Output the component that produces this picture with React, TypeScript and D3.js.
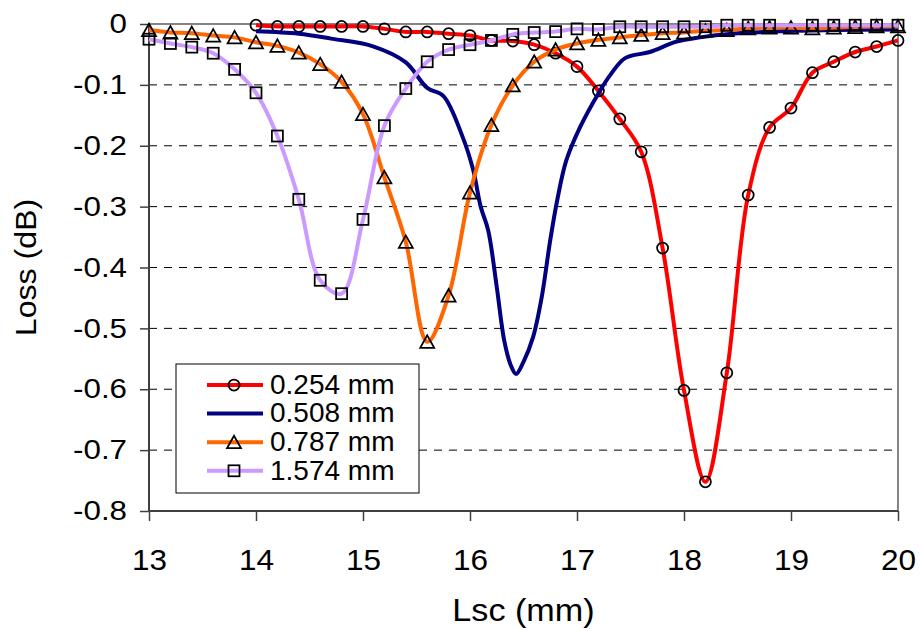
import { useRef, useEffect } from "react";
import * as d3 from "d3";

// Lsc (mm) and loss (dB)
const redX = [14.0, 14.2, 14.4, 14.6, 14.8, 15.0, 15.2, 15.4, 15.6, 15.8, 16.0, 16.2, 16.4, 16.6, 16.8, 17.0, 17.2, 17.4, 17.6, 17.8, 18.0, 18.2, 18.4, 18.6, 18.8, 19.0, 19.2, 19.4, 19.6, 19.8, 20.0];
const redY = [-0.002, -0.004, -0.004, -0.004, -0.004, -0.004, -0.008, -0.013, -0.013, -0.016, -0.019, -0.027, -0.028, -0.034, -0.048, -0.07, -0.11, -0.156, -0.21, -0.368, -0.602, -0.752, -0.573, -0.281, -0.17, -0.138, -0.08, -0.062, -0.046, -0.037, -0.027];

const blueX = [14.0, 14.4, 14.7, 15.1, 15.4, 15.6, 15.75, 15.93, 16.03, 16.1, 16.17, 16.25, 16.32, 16.38, 16.43, 16.5, 16.59, 16.67, 16.75, 16.82, 16.9, 17.03, 17.2, 17.31, 17.45, 17.68, 17.93, 18.15, 18.45, 18.77, 19.4, 20.0];
const blueY = [-0.012, -0.016, -0.024, -0.037, -0.063, -0.105, -0.118, -0.185, -0.24, -0.3, -0.339, -0.432, -0.52, -0.56, -0.575, -0.555, -0.514, -0.449, -0.355, -0.285, -0.224, -0.169, -0.114, -0.084, -0.056, -0.046, -0.029, -0.022, -0.016, -0.013, -0.01, -0.009];

const orangeX = [13.0, 13.2, 13.4, 13.6, 13.8, 14.0, 14.2, 14.4, 14.6, 14.8, 15.0, 15.2, 15.4, 15.6, 15.8, 16.0, 16.2, 16.4, 16.6, 16.8, 17.0, 17.2, 17.4, 17.6, 17.8, 18.0, 18.2, 18.4, 18.6, 18.8, 19.0, 19.2, 19.4, 19.6, 19.8, 20.0];
const orangeY = [-0.01, -0.014, -0.015, -0.019, -0.022, -0.03, -0.036, -0.047, -0.066, -0.095, -0.148, -0.252, -0.358, -0.522, -0.446, -0.277, -0.166, -0.101, -0.062, -0.042, -0.032, -0.026, -0.022, -0.018, -0.015, -0.014, -0.011, -0.01, -0.007, -0.006, -0.006, -0.007, -0.006, -0.005, -0.004, -0.004];

const purpleX = [13.0, 13.2, 13.4, 13.6, 13.8, 14.0, 14.2, 14.4, 14.6, 14.8, 15.0, 15.2, 15.4, 15.6, 15.8, 16.0, 16.2, 16.4, 16.6, 16.8, 17.0, 17.2, 17.4, 17.6, 17.8, 18.0, 18.2, 18.4, 18.6, 18.8, 19.2, 19.4, 19.6, 19.8, 20.0];
const purpleY = [-0.025, -0.032, -0.038, -0.048, -0.0745, -0.113, -0.184, -0.288, -0.421, -0.443, -0.321, -0.167, -0.106, -0.062, -0.042, -0.034, -0.027, -0.017, -0.014, -0.0125, -0.008, -0.009, -0.0045, -0.0045, -0.0045, -0.0045, -0.0045, -0.002, -0.002, -0.002, -0.002, -0.002, -0.002, -0.002, -0.002];

const seriesNames = ["0.254 mm", "0.508 mm", "0.787 mm", "1.574 mm"];
const xTicks = [13, 14, 15, 16, 17, 18, 19, 20];
const yTicks = [0, -0.1, -0.2, -0.3, -0.4, -0.5, -0.6, -0.7, -0.8];
const yTickLabels = ["0", "-0.1", "-0.2", "-0.3", "-0.4", "-0.5", "-0.6", "-0.7", "-0.8"];

const FONT = "Arial, 'Liberation Sans', sans-serif";

// the reference text is a little wider than plain Arial
const stretch = (sel, k) => {
  sel.each(function () {
    const w = this.getComputedTextLength();
    if (w > 0) d3.select(this).attr("textLength", w * k).attr("lengthAdjust", "spacingAndGlyphs");
  });
};

const App = () => {
  const svgRef = useRef(null);

  useEffect(() => {
    const svg = d3.select(svgRef.current);
    svg.selectAll("*").remove();

    const left = 149, right = 898, top = 24, bottom = 511;
    const x = d3.scaleLinear().domain([13, 20]).range([left, right]);
    const y = d3.scaleLinear().domain([-0.8, 0]).range([bottom, top]);

    // dashed gridlines
    svg.append("g")
      .selectAll("line")
      .data(yTicks.filter((t) => t !== 0 && t !== -0.8))
      .enter()
      .append("line")
      .attr("x1", left)
      .attr("x2", right)
      .attr("y1", (d) => y(d))
      .attr("y2", (d) => y(d))
      .attr("stroke", "#000")
      .attr("stroke-width", 1)
      .attr("stroke-dasharray", "8,7");

    // top and right border
    svg.append("path")
      .attr("d", `M${left},${top}H${right}V${bottom}`)
      .attr("fill", "none")
      .attr("stroke", "#858585")
      .attr("stroke-width", 2);

    // axes
    const xAxis = svg.append("g")
      .attr("transform", `translate(0,${bottom})`)
      .call(d3.axisBottom(x).tickValues(xTicks).tickSize(10).tickPadding(28).tickFormat((d) => String(d)));
    const yAxis = svg.append("g")
      .attr("transform", `translate(${left},0)`)
      .call(d3.axisLeft(y).tickValues(yTicks).tickSize(9).tickPadding(13).tickFormat((d, i) => yTickLabels[i]));

    [xAxis, yAxis].forEach((a) => {
      a.select(".domain").attr("stroke", "#404040").attr("stroke-width", 2);
      a.selectAll(".tick line").attr("stroke", "#404040").attr("stroke-width", 1.5);
      a.selectAll("text").attr("font-family", FONT).attr("fill", "#000");
    });
    xAxis.selectAll("text").attr("font-size", 30);
    yAxis.selectAll("text").attr("font-size", 27);
    stretch(xAxis.selectAll("text"), 1.05);
    stretch(yAxis.selectAll("text"), 1.16);
    xAxis.select(".domain").attr("d", `M${left},0H${right}`);
    yAxis.select(".domain").attr("d", `M0,${top}V${bottom}`);

    // axis titles
    const xTitle = svg.append("text")
      .attr("x", (left + right) / 2)
      .attr("y", 621)
      .attr("text-anchor", "middle")
      .attr("font-family", FONT)
      .attr("font-size", 30.5)
      .text("Lsc (mm)");
    stretch(xTitle, 1.12);
    const yTitle = svg.append("text")
      .attr("transform", `translate(36,${(top + bottom) / 2}) rotate(-90)`)
      .attr("text-anchor", "middle")
      .attr("font-family", FONT)
      .attr("font-size", 30)
      .text("Loss (dB)");
    stretch(yTitle, 1.07);

    const line = d3.line().curve(d3.curveCatmullRom.alpha(0.5));

    const drawMarker = (g, kind, cx, cy) => {
      if (kind === "circle") {
        g.append("circle").attr("cx", cx).attr("cy", cy).attr("r", 5.5);
      } else if (kind === "triangle") {
        g.append("path").attr("d", `M${cx},${cy - 6.5}L${cx + 7},${cy + 6}L${cx - 7},${cy + 6}Z`);
      } else if (kind === "square") {
        g.append("rect").attr("x", cx - 5.5).attr("y", cy - 5.5).attr("width", 11).attr("height", 11);
      }
    };

    const series = [
      { xs: redX, ys: redY, color: "#FF0000", marker: "circle" },
      { xs: blueX, ys: blueY, color: "#000080", marker: null },
      { xs: orangeX, ys: orangeY, color: "#FF6600", marker: "triangle" },
      { xs: purpleX, ys: purpleY, color: "#CC99FF", marker: "square" },
    ];

    series.forEach((s) => {
      const pts = s.xs.map((v, i) => [x(v), y(s.ys[i])]);
      svg.append("path")
        .attr("d", line(pts))
        .attr("fill", "none")
        .attr("stroke", s.color)
        .attr("stroke-width", 4)
        .attr("stroke-linejoin", "round");
      if (s.marker) {
        const mg = svg.append("g").attr("fill", "none").attr("stroke", "#000").attr("stroke-width", 1.75);
        pts.forEach(([px, py]) => drawMarker(mg, s.marker, px, py));
      }
    });

    // legend
    const lg = svg.append("g");
    lg.append("rect")
      .attr("x", 176)
      .attr("y", 364)
      .attr("width", 243)
      .attr("height", 129)
      .attr("fill", "#fff")
      .attr("stroke", "#000")
      .attr("stroke-width", 1);
    series.forEach((s, i) => {
      const ry = 385 + i * 28.6;
      lg.append("line")
        .attr("x1", 207)
        .attr("x2", 263)
        .attr("y1", ry)
        .attr("y2", ry)
        .attr("stroke", s.color)
        .attr("stroke-width", 4);
      if (s.marker) {
        const mg = lg.append("g").attr("fill", "none").attr("stroke", "#000").attr("stroke-width", 1.75);
        drawMarker(mg, s.marker, 234, ry);
      }
      lg.append("text")
        .attr("x", 270)
        .attr("y", ry - 1)
        .attr("dy", "0.35em")
        .attr("font-family", FONT)
        .attr("font-size", 28)
        .text(seriesNames[i]);
    });
  }, []);

  return (
    <div style={{ position: "absolute", left: 0, top: 0, width: 920, height: 630, background: "#fff" }}>
      <svg ref={svgRef} width="920" height="630"></svg>
    </div>
  );
};

export default App;
